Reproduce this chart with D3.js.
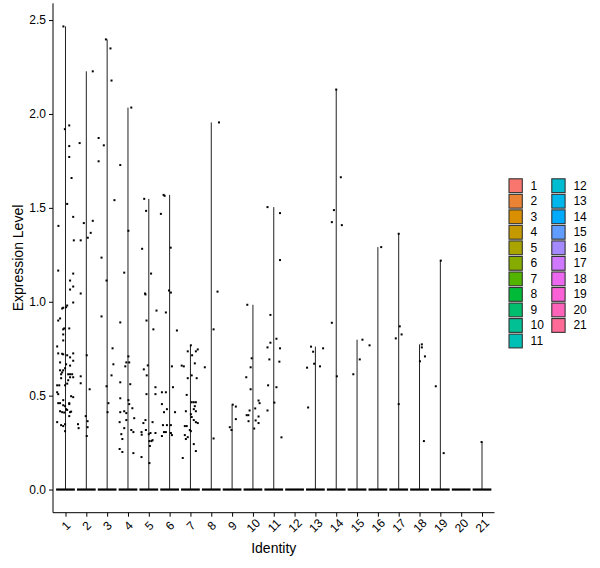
<!DOCTYPE html>
<html>
<head>
<meta charset="utf-8">
<script src="https://cdn.jsdelivr.net/npm/d3@7"></script>
<style>
  body { margin: 0; background: #fff; }
  text { font-family: "Liberation Sans", Arial, sans-serif; }
</style>
</head>
<body>
<div id="chart"></div>
<script>
var identities = ["1","2","3","4","5","6","7","8","9","10","11","12","13","14","15","16","17","18","19","20","21"];
var yTicks = [0, 0.5, 1, 1.5, 2, 2.5];

// non-zero cells: [identity, jitter (in category units), expression]
var cells = [
  [1,-0.10,2.466],[1,-0.03,1.919],[1,0.18,1.939],[1,0.18,1.829],[1,0.18,1.771],[1,0.29,1.659],[1,0.08,1.521],
  [1,-0.34,1.404],[1,0.37,1.452],[1,0.40,1.327],[1,-0.35,1.166],[1,0.37,1.150],[1,0.22,1.113],[1,0.37,1.081],
  [1,0.22,1.065],[1,0.37,0.996],[1,0.08,0.980],[1,0.03,0.971],[1,-0.11,0.968],[1,-0.16,0.964],[1,-0.26,0.911],
  [1,-0.35,0.900],[1,-0.06,0.858],[1,0.18,0.858],[1,-0.11,0.853],[1,-0.11,0.826],[1,-0.11,0.794],[1,-0.40,0.762],
  [1,-0.35,0.725],[1,-0.16,0.723],[1,-0.11,0.720],[1,0.08,0.715],[1,0.37,0.725],[1,0.22,0.704],[1,0.37,0.686],
  [1,-0.26,0.677],[1,0.03,0.667],[1,0.22,0.660],[1,-0.02,0.646],[1,-0.11,0.635],[1,-0.26,0.635],[1,-0.16,0.624],
  [1,-0.21,0.614],[1,0.13,0.614],[1,0.22,0.614],[1,0.32,0.614],[1,-0.21,0.593],[1,0.37,0.598],[1,0.22,0.598],
  [1,0.13,0.582],[1,0.08,0.564],[1,-0.40,0.555],[1,-0.30,0.555],[1,-0.02,0.555],[1,-0.40,0.518],[1,-0.35,0.508],
  [1,0.27,0.497],[1,0.37,0.492],[1,-0.11,0.476],[1,-0.35,0.460],[1,-0.26,0.460],[1,0.18,0.460],[1,0.18,0.455],
  [1,-0.11,0.449],[1,-0.02,0.444],[1,0.03,0.428],[1,0.08,0.424],[1,-0.26,0.417],[1,-0.16,0.412],[1,-0.06,0.410],
  [1,0.22,0.412],[1,0.27,0.415],[1,0.18,0.391],[1,-0.40,0.359],[1,-0.21,0.343],[1,-0.11,0.338],[1,-0.02,0.348],
  [1,-0.02,0.311],
  [2,0.31,2.227],[2,-0.32,1.845],[2,0.31,1.431],[2,-0.12,1.419],[2,0.21,1.367],[2,0.07,1.341],[2,-0.27,1.327],
  [2,-0.27,1.044],[2,0.02,0.715],[2,-0.27,0.603],[2,-0.27,0.566],[2,0.16,0.534],[2,-0.03,0.391],[2,0.06,0.364],
  [2,-0.40,0.348],[2,0.06,0.332],[2,-0.37,0.327],[2,0.02,0.285],
  [3,-0.06,2.397],[3,0.16,2.349],[3,0.21,2.178],[3,-0.41,1.872],[3,-0.16,1.833],[3,-0.41,1.748],[3,0.35,1.541],
  [3,-0.27,1.235],[3,-0.03,1.113],[3,-0.27,0.922],[3,0.26,0.752],[3,0.30,0.667],[3,0.21,0.608],[3,-0.03,0.550],
  [3,0.06,0.460],[3,0.02,0.412],
  [4,0.16,2.034],[4,-0.37,1.728],[4,0.02,1.378],[4,-0.18,1.155],[4,-0.37,0.890],[4,0.02,0.709],[4,-0.08,0.677],
  [4,0.06,0.677],[4,-0.13,0.656],[4,-0.37,0.571],[4,0.11,0.561],[4,-0.37,0.486],[4,0.02,0.476],[4,0.06,0.455],
  [4,0.21,0.433],[4,-0.37,0.412],[4,-0.18,0.417],[4,-0.08,0.407],[4,0.30,0.380],[4,-0.40,0.359],[4,-0.08,0.370],
  [4,-0.18,0.327],[4,-0.32,0.295],[4,-0.27,0.269],[4,0.16,0.317],[4,0.26,0.306],[4,-0.40,0.216],[4,-0.27,0.200],
  [4,0.26,0.194],
  [5,-0.22,1.548],[5,-0.13,1.484],[5,-0.32,1.282],[5,0.11,1.150],[5,-0.18,1.044],[5,-0.16,1.039],[5,-0.11,0.900],
  [5,0.37,0.953],[5,0.22,0.853],[5,-0.24,0.640],[5,-0.05,0.661],[5,-0.10,0.608],[5,-0.11,0.508],[5,0.32,0.545],
  [5,0.32,0.508],[5,0.18,0.359],[5,-0.16,0.370],[5,-0.26,0.354],[5,-0.35,0.306],[5,-0.34,0.292],[5,-0.14,0.317],
  [5,0.08,0.301],[5,0.00,0.295],[5,0.32,0.301],[5,0.03,0.258],[5,0.13,0.258],[5,0.18,0.263],[5,0.05,0.232],
  [5,-0.35,0.173],[5,0.03,0.141],
  [6,-0.29,1.569],[6,-0.24,1.564],[6,-0.42,1.468],[6,0.05,1.288],[6,-0.03,1.060],[6,0.06,1.049],[6,-0.18,0.943],
  [6,0.35,0.847],[6,0.11,0.656],[6,-0.18,0.518],[6,-0.37,0.518],[6,0.16,0.545],[6,-0.37,0.455],[6,-0.27,0.412],
  [6,-0.13,0.428],[6,0.26,0.412],[6,-0.32,0.343],[6,-0.13,0.343],[6,0.06,0.343],[6,-0.37,0.285],[6,-0.27,0.306],
  [6,0.06,0.301],[6,0.11,0.290],[6,-0.18,0.306],
  [7,0.02,0.768],[7,0.26,0.736],[7,-0.13,0.736],[7,0.08,0.715],[7,-0.42,0.660],[7,-0.32,0.656],[7,-0.13,0.593],
  [7,0.06,0.608],[7,0.30,0.593],[7,-0.18,0.504],[7,0.06,0.465],[7,0.16,0.465],[7,0.26,0.465],[7,0.21,0.444],
  [7,0.16,0.428],[7,0.26,0.417],[7,-0.22,0.417],[7,0.02,0.401],[7,0.16,0.370],[7,0.26,0.359],[7,0.35,0.354],
  [7,0.06,0.386],[7,-0.27,0.338],[7,-0.18,0.338],[7,-0.03,0.317],[7,0.02,0.311],[7,-0.27,0.290],[7,-0.13,0.279],
  [7,-0.22,0.269],[7,0.16,0.242],[7,-0.37,0.168],[7,0.26,0.205],[7,0.35,0.746],[7,0.21,0.672],
  [8,0.37,1.955],[8,0.30,1.054],[8,0.11,0.853],[8,-0.31,0.651],[8,0.11,0.272],
  [9,0.03,0.452],[9,0.18,0.442],[9,0.18,0.375],[9,-0.11,0.332],[9,-0.03,0.317],
  [10,-0.27,0.984],[10,-0.06,0.699],[10,-0.11,0.651],[10,-0.32,0.598],[10,-0.11,0.534],[10,0.27,0.474],
  [10,0.32,0.460],[10,0.11,0.432],[10,-0.16,0.421],[10,-0.30,0.396],[10,-0.22,0.396],[10,0.27,0.389],
  [10,-0.21,0.364],[10,0.13,0.368],[10,0.27,0.354],[10,0.06,0.325],
  [11,-0.30,1.504],[11,0.30,1.472],[11,0.30,1.222],[11,-0.16,0.930],[11,0.13,0.803],[11,-0.16,0.782],
  [11,-0.30,0.757],[11,0.30,0.752],[11,-0.21,0.693],[11,0.27,0.681],[11,-0.27,0.555],[11,0.13,0.545],
  [11,0.03,0.463],[11,-0.30,0.421],[11,0.37,0.278],
  [13,-0.21,0.761],[13,-0.11,0.734],[13,0.37,0.752],[13,-0.06,0.670],[13,0.22,0.656],[13,-0.40,0.649],[13,-0.35,0.437],
  [14,0.00,2.130],[14,0.22,1.663],[14,-0.11,1.488],[14,-0.21,1.424],[14,0.27,1.408],[14,-0.21,0.888],[14,0.03,0.603],
  [15,0.26,0.798],[15,0.13,0.693],[15,-0.18,0.614],
  [16,0.16,1.291],[16,-0.40,0.768],
  [17,0.00,1.362],[17,0.05,0.869],[17,0.14,0.826],[17,-0.14,0.805],[17,0.00,0.455],
  [18,0.11,0.773],[18,0.11,0.757],[18,0.26,0.709],[18,0.02,0.683],[18,0.21,0.258],
  [19,0.02,1.219],[19,-0.22,0.550],[19,0.16,0.194],
  [21,-0.02,0.253]
];

// ggplot-style hue palette (polar Luv, c=100, l=65)
function hueColor(h) {
  var L = 65, C = 100, rad = h * Math.PI / 180;
  var U = C * Math.cos(rad), V = C * Math.sin(rad);
  var Xn = 0.95047, Yn = 1, Zn = 1.08883;
  var un = 4 * Xn / (Xn + 15 * Yn + 3 * Zn), vn = 9 * Yn / (Xn + 15 * Yn + 3 * Zn);
  var Y = Math.pow((L + 16) / 116, 3);
  var u = U / (13 * L) + un, v = V / (13 * L) + vn;
  var X = 9 * Y * u / (4 * v);
  var Z = -X / 3 - 5 * Y + 3 * Y / v;
  var lin = [
    3.240479 * X - 1.537150 * Y - 0.498535 * Z,
    -0.969256 * X + 1.875992 * Y + 0.041556 * Z,
    0.055648 * X - 0.204043 * Y + 1.057311 * Z
  ];
  var c = lin.map(function(t) {
    t = t <= 0.0031308 ? 12.92 * t : 1.055 * Math.pow(t, 1 / 2.4) - 0.055;
    return Math.round(Math.max(0, Math.min(1, t)) * 255);
  });
  return d3.rgb(c[0], c[1], c[2]).formatHex();
}
var colors = identities.map(function(d, i) { return hueColor(15 + i * 360 / 21); });

var svgWidth = 600, svgHeight = 568;
var panel = { left: 53, right: 494.5, top: 3.3, bottom: 512.7 };

var svg = d3.select("#chart").append("svg")
  .attr("width", svgWidth)
  .attr("height", svgHeight);

var x = d3.scalePoint()
  .domain(identities)
  .range([panel.left, panel.right])
  .padding(0.6);
var step = x.step();

var yMax = d3.max(cells, function(d) { return d[2]; });
var yPad = yMax * 0.05;
var y = d3.scaleLinear()
  .domain([-yPad, yMax + yPad])
  .range([panel.bottom, panel.top]);

// violins: nearly all mass sits at zero, so they collapse to a foot + a spine
var violins = svg.append("g");
identities.forEach(function(id, i) {
  var vals = cells.filter(function(d) { return String(d[0]) === id; });
  var cx = x(id);
  var top = d3.max(vals, function(d) { return d[2]; });
  if (top) {
    violins.append("line")
      .attr("x1", cx).attr("x2", cx)
      .attr("y1", y(0)).attr("y2", y(top))
      .attr("stroke", "#222")
      .attr("stroke-width", 1);
  }
  violins.append("line")
    .attr("x1", cx - 0.45 * step).attr("x2", cx + 0.45 * step)
    .attr("y1", y(0)).attr("y2", y(0))
    .attr("stroke", "#000")
    .attr("stroke-width", 2.2);
});

// jittered cells
svg.append("g").selectAll("rect")
  .data(cells)
  .enter()
  .append("rect")
  .attr("x", function(d) { return x(String(d[0])) + d[1] * step - 1; })
  .attr("y", function(d) { return y(d[2]) - 1; })
  .attr("width", 2)
  .attr("height", 2)
  .attr("fill", "#000");

// axes
var leftAxis = d3.axisLeft(y).tickValues(yTicks).tickFormat(d3.format(".1f")).tickSize(4).tickPadding(3);
var gy = svg.append("g")
  .attr("transform", "translate(" + panel.left + ",0)")
  .call(leftAxis);
gy.select(".domain").attr("d", "M0," + panel.top + "V" + panel.bottom);

var bottomAxis = d3.axisBottom(x).tickSize(4).tickSizeOuter(0);
var gx = svg.append("g")
  .attr("transform", "translate(0," + panel.bottom + ")")
  .call(bottomAxis);
gx.select(".domain").attr("d", "M" + panel.left + ",0H" + panel.right);
gx.selectAll("text")
  .attr("y", 0).attr("x", 0).attr("dy", null)
  .attr("transform", "translate(0,13) rotate(-45)")
  .attr("dominant-baseline", "central")
  .style("text-anchor", "middle");

[gx, gy].forEach(function(g) {
  g.selectAll("path, line").attr("stroke", "#000").attr("stroke-width", 1);
  g.selectAll("text").attr("fill", "#000").style("font-size", "12px").style("font-family", "Liberation Sans, Arial, sans-serif");
});

// axis titles
svg.append("text")
  .attr("x", (panel.left + panel.right) / 2)
  .attr("y", 553)
  .attr("text-anchor", "middle")
  .style("font-size", "14px")
  .text("Identity");

svg.append("text")
  .attr("transform", "translate(23," + ((panel.top + panel.bottom) / 2) + ") rotate(-90)")
  .attr("text-anchor", "middle")
  .style("font-size", "14px")
  .text("Expression Level");

// legend, two columns
var legend = svg.append("g");
var rowH = 15.53;
identities.forEach(function(id, i) {
  var col = i < 11 ? 0 : 1;
  var row = col ? i - 11 : i;
  var bx = col ? 551.8 : 509;
  var cy = 185.7 + row * rowH;
  legend.append("rect")
    .attr("x", bx).attr("y", cy - 6.9)
    .attr("width", 13.3).attr("height", 13.8)
    .attr("fill", colors[i])
    .attr("stroke", "#333")
    .attr("stroke-width", 1.1);
  legend.append("text")
    .attr("x", bx + 21.6)
    .attr("y", cy)
    .attr("dominant-baseline", "central")
    .style("font-size", "12px")
    .text(id);
});
</script>
</body>
</html>
